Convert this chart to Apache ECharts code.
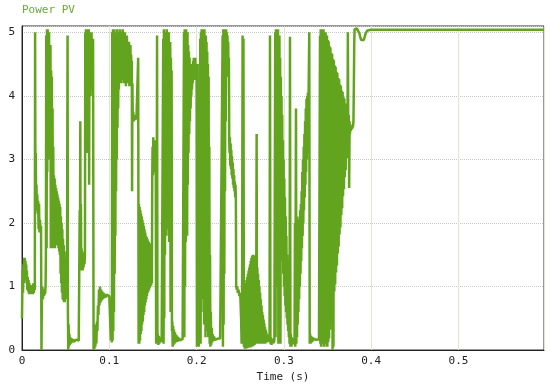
<!DOCTYPE html>
<html>
<head>
<meta charset="utf-8">
<script src="https://cdn.jsdelivr.net/npm/echarts@6/dist/echarts.min.js"></script>
<style>
html,body{margin:0;padding:0;background:#fff;}
#chart{width:550px;height:390px;}
</style>
</head>
<body>
<div id="chart"></div>
<script>
const titleText = 'Power PV';
const xAxisName = 'Time (s)';
const xTicks = [0, 0.1, 0.2, 0.3, 0.4, 0.5];
const yTicks = [0, 1, 2, 3, 4, 5];

// [time (s), power]
const seg1 = [
[0.0000,0.50],[0.0004,0.95],[0.0008,1.25],[0.0012,0.90],[0.0016,1.35],[0.0020,1.05],[0.0024,1.45],[0.0028,1.15],[0.0032,1.45],[0.0036,1.20],[0.0040,1.40],[0.0044,1.10],[0.0048,1.35],[0.0052,1.05],[0.0056,1.25],[0.0060,0.95],[0.0065,1.15],[0.0070,0.92],[0.0075,1.10],[0.0080,0.88],[0.0085,1.05],[0.0090,0.90],[0.0095,1.02],[0.0100,0.88],[0.0106,1.00],[0.0112,0.90],[0.0118,1.02],[0.0124,0.88],[0.0130,1.05],[0.0136,0.90],[0.0142,1.00],[0.0147,0.95],
[0.0150,5.00],[0.0154,2.40],[0.0158,3.10],[0.0162,2.30],[0.0166,2.60],[0.0170,2.20],[0.0175,2.45],[0.0180,2.15],[0.0185,2.35],[0.0190,1.90],[0.0195,2.30],[0.0200,1.85],[0.0206,2.05],[0.0212,1.90],[0.0218,1.95],[0.0223,0.00]
];
const seg2 = [
[0.0228,0.85],[0.0234,1.00],[0.0240,0.80],[0.0246,0.95],[0.0252,0.85],[0.0258,0.95],[0.0264,0.88],[0.0270,1.00],
[0.0274,1.50],[0.0278,4.95],[0.0282,1.60],[0.0286,5.05],[0.0290,2.80],[0.0294,5.05],[0.0298,3.10],[0.0302,4.90],[0.0306,3.20],[0.0310,5.00],[0.0314,3.00],[0.0318,4.70],[0.0322,3.10],[0.0326,4.80],[0.0330,1.60],[0.0334,4.40],[0.0338,1.70],[0.0342,4.30],[0.0346,1.60],[0.0350,3.80],[0.0354,1.65],[0.0358,3.20],
[0.0362,1.60],[0.0366,2.75],[0.0370,1.65],[0.0374,2.70],[0.0378,1.60],[0.0382,2.60],[0.0386,1.70],[0.0390,2.55],[0.0394,1.65],[0.0398,2.50],[0.0402,1.70],[0.0406,2.45],[0.0410,1.65],[0.0414,2.40],[0.0418,1.60],[0.0422,2.35],[0.0426,1.55],[0.0430,2.30],[0.0434,1.50],
[0.0438,2.25],[0.0442,1.20],[0.0446,2.10],[0.0450,1.05],[0.0454,2.00],[0.0458,0.90],[0.0462,1.90],[0.0466,0.80],[0.0470,1.75],[0.0474,0.78],[0.0478,1.65],[0.0482,0.75],[0.0486,1.55],[0.0490,0.75],[0.0494,1.45],[0.0498,0.80],[0.0504,1.40],[0.0510,0.85],[0.0516,1.50],
[0.0522,4.95],[0.0526,0.60],[0.0530,0.00],[0.0534,0.40],[0.0538,0.05],[0.0543,0.25],[0.0548,0.08],[0.0554,0.20],[0.0560,0.10],[0.0568,0.18],[0.0576,0.12],[0.0584,0.17],[0.0592,0.13],[0.0600,0.16],[0.0610,0.14],[0.0620,0.16],[0.0630,0.14],[0.0640,0.15],[0.0650,0.15],[0.0658,0.14]
];
const seg3 = [
[0.0661,2.20],[0.0664,1.40],[0.0668,3.60],[0.0671,1.30],[0.0675,2.30],[0.0679,1.25],[0.0683,1.60],[0.0687,1.30],[0.0691,1.55],[0.0695,1.25],[0.0700,1.50],[0.0705,1.30],[0.0710,1.45],[0.0716,1.35],[0.0721,1.50],
[0.0725,5.00],[0.0729,4.10],[0.0733,5.05],[0.0737,4.00],[0.0741,5.05],[0.0745,3.10],[0.0749,5.05],[0.0753,4.05],[0.0757,5.00],[0.0761,4.20],[0.0765,5.05],[0.0769,2.60],[0.0773,4.95],[0.0777,4.10],[0.0781,5.00],[0.0785,4.00],[0.0789,4.95],[0.0793,4.20],[0.0797,5.00],[0.0801,4.10],[0.0805,4.80],[0.0809,4.30],[0.0814,4.90],
[0.0820,0.00],[0.0825,0.30],[0.0830,0.02],[0.0835,0.35],[0.0840,0.05],[0.0846,0.40],[0.0852,0.10],[0.0858,0.45],[0.0864,0.30],[0.0870,0.70],[0.0876,0.55],[0.0882,0.95],[0.0888,0.70],[0.0894,1.00],[0.0900,0.75],[0.0907,0.95],[0.0914,0.78],[0.0921,0.92],[0.0928,0.80],[0.0935,0.90],[0.0943,0.82],[0.0951,0.88],[0.0960,0.83],[0.0970,0.87],[0.0980,0.84],[0.0990,0.86],[0.1000,0.85],[0.1010,0.84]
];
const seg4 = [
[0.1018,0.15],[0.1024,0.20],[0.1030,0.12],[0.1034,5.00],[0.1038,0.15],[0.1042,5.05],[0.1046,0.30],[0.1050,4.95],[0.1054,0.60],[0.1058,5.05],[0.1062,1.20],[0.1066,4.90],[0.1070,1.80],[0.1074,5.00],[0.1078,2.50],[0.1082,4.95],[0.1086,3.00],[0.1090,5.05],[0.1094,3.50],[0.1098,4.90],[0.1102,3.80],[0.1106,5.00],[0.1110,4.10],[0.1114,4.95],[0.1118,4.20],
[0.1122,5.05],[0.1126,4.30],[0.1130,4.90],[0.1134,4.20],[0.1138,5.00],[0.1142,4.40],[0.1146,4.80],[0.1150,4.25],[0.1154,5.05],[0.1158,4.35],[0.1162,4.95],[0.1166,4.20],[0.1170,4.85],[0.1174,4.30],[0.1178,5.00],[0.1182,4.40],[0.1186,4.90],[0.1190,4.15],[0.1194,4.80],[0.1198,4.25],[0.1202,4.95],[0.1206,4.30],[0.1210,4.85],[0.1214,4.20],[0.1218,4.75],[0.1222,4.30],[0.1226,4.85],[0.1230,4.15],[0.1234,4.70],[0.1238,4.25],[0.1242,4.80],[0.1246,4.30],[0.1250,4.65],[0.1254,4.40],[0.1258,4.55],
[0.1261,2.50],[0.1265,4.20],[0.1269,3.60],[0.1274,3.75],[0.1280,3.60],[0.1286,3.70],[0.1292,3.62],[0.1298,3.68],[0.1305,3.63],[0.1312,3.67],[0.1320,3.64],[0.1327,3.66]
];
const seg5 = [
[0.1331,4.60],[0.1336,0.10],[0.1340,2.30],[0.1344,0.10],[0.1348,2.25],[0.1352,0.15],[0.1356,2.20],[0.1360,0.25],[0.1364,2.15],[0.1368,0.30],[0.1372,2.10],[0.1376,0.40],[0.1380,2.05],[0.1384,0.45],[0.1388,2.00],[0.1392,0.55],[0.1396,1.95],[0.1400,0.60],[0.1404,1.90],[0.1408,0.70],[0.1412,1.85],[0.1416,0.75],[0.1420,1.80],[0.1424,0.80],[0.1428,1.78],[0.1432,0.85],[0.1436,1.75],[0.1440,0.90],[0.1444,1.72],[0.1448,0.92],[0.1452,1.70],[0.1456,0.95],[0.1460,1.68],[0.1464,0.98],[0.1468,1.66],[0.1472,1.00],[0.1476,1.65],[0.1480,1.02],[0.1484,1.62],[0.1488,1.05],
[0.1492,2.70],[0.1496,3.20],[0.1500,2.75],[0.1504,3.35],[0.1508,2.80],[0.1512,3.30],[0.1516,2.85],[0.1520,3.25],[0.1524,2.90],[0.1528,3.30],[0.1532,3.00],[0.1537,0.10],[0.1542,0.30],[0.1547,4.95],[0.1552,0.10],[0.1557,0.25],[0.1562,0.08],[0.1567,0.22],[0.1573,0.10],[0.1579,0.20],[0.1585,0.12],[0.1592,0.18],[0.1600,0.13],[0.1608,0.16],[0.1614,0.14],
[0.1618,4.90],[0.1622,0.10],[0.1626,5.05],[0.1630,0.50],[0.1634,4.95],[0.1638,1.50],[0.1642,5.00],[0.1646,2.00],[0.1650,4.85],[0.1654,1.80],[0.1658,5.05],[0.1662,2.30],[0.1666,4.90],[0.1670,1.90],[0.1674,4.80],[0.1678,2.20],[0.1682,5.00],[0.1686,1.70],[0.1690,4.70],[0.1694,2.00],[0.1698,4.85],[0.1702,0.60],[0.1706,4.60],[0.1710,1.00],[0.1714,4.40],[0.1718,0.30],
[0.1722,0.45],[0.1726,0.05],[0.1731,0.38],[0.1736,0.08],[0.1741,0.32],[0.1747,0.10],[0.1753,0.28],[0.1760,0.12],[0.1767,0.24],[0.1775,0.13],[0.1783,0.21],[0.1791,0.14],[0.1800,0.19],[0.1810,0.15],[0.1820,0.18],[0.1830,0.15],[0.1840,0.17],[0.1850,0.16]
];
const seg6 = [
[0.1856,5.00],[0.1860,0.20],[0.1864,5.05],[0.1868,1.00],[0.1872,4.95],[0.1876,1.70],[0.1880,5.05],[0.1884,2.20],[0.1888,4.90],[0.1892,1.80],[0.1896,5.00],[0.1900,2.60],[0.1904,4.80],[0.1908,3.10],[0.1912,4.70],[0.1916,3.40],[0.1920,4.60],[0.1924,3.60],[0.1928,4.50],[0.1932,3.80],[0.1936,4.50],[0.1940,4.00],[0.1944,4.45],[0.1948,4.10],[0.1952,4.50],[0.1956,4.20],[0.1960,4.55],[0.1964,4.30],[0.1968,4.60],[0.1972,4.25],[0.1976,4.55],[0.1980,4.40],[0.1985,4.60],[0.1990,4.30],[0.1995,4.50],[0.2000,4.40],
[0.2004,0.05],[0.2008,0.20],[0.2012,4.50],[0.2016,0.10],[0.2020,0.30],[0.2024,0.05],[0.2028,0.25],[0.2033,0.10],[0.2038,0.20],
[0.2042,4.90],[0.2046,0.10],[0.2050,5.00],[0.2054,0.60],[0.2058,5.05],[0.2062,1.20],[0.2066,4.95],[0.2070,0.80],[0.2074,5.05],[0.2078,1.60],[0.2082,5.00],[0.2086,0.40],[0.2090,5.05],[0.2094,1.40],[0.2098,4.90],[0.2102,0.20],[0.2106,4.95],[0.2110,1.10],[0.2114,4.85],[0.2118,0.30],[0.2122,4.70],[0.2126,0.80],[0.2130,4.50],[0.2134,0.20],[0.2138,4.30],[0.2142,0.50],[0.2146,3.20],[0.2150,0.10],[0.2154,1.50],[0.2158,0.05],[0.2163,0.60],[0.2168,0.08],[0.2173,0.35],[0.2179,0.12],[0.2185,0.25],[0.2192,0.14],[0.2200,0.21],[0.2210,0.16],[0.2220,0.19],[0.2232,0.17],[0.2245,0.18],[0.2258,0.17],[0.2270,0.18],[0.2282,0.17],[0.2292,0.17]
];
const seg7 = [
[0.2298,4.95],[0.2302,0.05],[0.2306,5.05],[0.2310,0.40],[0.2314,5.00],[0.2318,1.20],[0.2322,5.05],[0.2326,2.50],[0.2330,4.95],[0.2334,3.60],[0.2338,5.05],[0.2342,4.30],[0.2346,5.00],[0.2350,4.30],[0.2354,4.95],[0.2358,4.40],[0.2362,4.85],[0.2366,4.30],[0.2370,4.60],[0.2374,3.30],[0.2378,3.10],[0.2382,3.35],[0.2386,2.90],[0.2390,3.25],[0.2394,2.85],[0.2398,3.15],[0.2402,2.75],[0.2406,3.05],[0.2410,2.70],[0.2414,2.95],[0.2418,2.60],[0.2422,2.85],[0.2426,2.55],[0.2430,2.75],[0.2434,2.50],[0.2438,2.65],[0.2442,2.40],[0.2446,2.60],[0.2450,2.40],
[0.2454,1.00],[0.2460,0.95],[0.2466,1.00],[0.2472,0.90],[0.2480,0.95],[0.2490,0.85],[0.2500,0.90],[0.2510,0.50],[0.2516,0.10],[0.2521,0.20],[0.2527,4.95],[0.2532,0.10],[0.2537,4.90],[0.2542,0.05],
[0.2548,0.95],[0.2552,0.02],[0.2556,1.00],[0.2560,0.05],[0.2564,1.05],[0.2568,0.02],[0.2572,1.10],[0.2576,0.05],[0.2580,1.15],[0.2584,0.03],[0.2588,1.20],[0.2592,0.05],[0.2596,1.25],[0.2600,0.04],[0.2604,1.30],[0.2608,0.06],[0.2612,1.35],[0.2616,0.04],[0.2620,1.40],[0.2624,0.06],[0.2628,1.45],[0.2632,0.05],[0.2636,1.48],[0.2640,0.08],[0.2644,1.50],[0.2648,0.06],[0.2652,1.50],[0.2656,0.10],[0.2660,1.48],[0.2664,0.08],[0.2668,1.45],[0.2672,0.12],[0.2676,1.40],[0.2680,0.10],[0.2684,1.35],[0.2688,3.40],[0.2692,0.10],[0.2696,1.30],[0.2700,0.12],[0.2704,1.20],[0.2708,0.10],[0.2712,1.10],[0.2716,0.12],[0.2720,1.00],[0.2724,0.10],[0.2728,0.90],[0.2732,0.12],[0.2736,0.80],[0.2740,0.10],[0.2744,0.70],[0.2748,0.12],[0.2752,0.60],[0.2756,0.10],[0.2760,0.55],[0.2764,0.12],[0.2768,0.48],[0.2772,0.10],[0.2776,0.42],[0.2780,0.12],[0.2784,0.36],[0.2788,0.10],[0.2792,0.32],[0.2796,0.12],[0.2800,0.28],[0.2806,0.12],[0.2812,0.24],[0.2818,0.13],[0.2824,0.20],[0.2830,0.14],[0.2836,0.18]
];
const seg8 = [
[0.2841,4.95],[0.2846,0.10],[0.2852,0.20],[0.2858,0.08],[0.2864,0.18],[0.2870,0.10],[0.2877,0.16],[0.2884,0.11],[0.2891,0.15],[0.2897,0.12],
[0.2901,5.00],[0.2905,0.20],[0.2909,5.05],[0.2913,1.00],[0.2917,5.05],[0.2921,2.50],[0.2925,5.00],[0.2929,3.20],[0.2933,5.05],[0.2937,0.10],[0.2941,4.90],[0.2945,3.00],[0.2949,4.95],[0.2953,2.60],[0.2957,4.60],[0.2961,0.10],[0.2965,4.30],[0.2969,2.00],[0.2973,4.00],[0.2977,1.70],[0.2981,3.70],[0.2985,1.40],[0.2989,3.30],[0.2993,1.20],[0.2997,3.00],[0.3001,1.00],[0.3005,2.70],[0.3009,0.85],[0.3013,2.40],[0.3017,0.70],[0.3021,2.10],[0.3025,0.60],[0.3029,1.80],[0.3033,0.50],[0.3037,1.50],[0.3041,0.40],[0.3045,1.20],[0.3049,0.30],[0.3053,0.90],[0.3057,0.20],[0.3061,0.60],[0.3065,0.10],
[0.3070,4.93],[0.3075,0.05],[0.3080,0.25],[0.3085,0.05],[0.3090,0.20],[0.3096,0.08],[0.3102,0.18],[0.3108,0.10],[0.3115,0.15],[0.3122,0.10],
[0.3127,2.00],[0.3131,0.05],[0.3135,2.10],[0.3139,3.80],[0.3143,0.10],[0.3147,2.10],[0.3151,0.20],[0.3155,2.00],[0.3159,0.40],[0.3163,2.05],[0.3167,0.60],[0.3171,2.00],[0.3175,0.80],[0.3179,2.10],[0.3183,1.00],[0.3187,2.20],[0.3191,1.20],[0.3195,2.30],[0.3199,1.40],[0.3203,2.50],[0.3207,1.60],
[0.3211,2.80],[0.3215,1.80],[0.3219,3.00],[0.3223,2.00],[0.3227,3.20],[0.3231,2.20],[0.3235,3.40],[0.3239,2.40],[0.3243,3.60],[0.3247,2.60],[0.3251,3.80],[0.3255,2.80],[0.3259,3.95],[0.3263,3.00],[0.3267,4.00],[0.3271,3.10],[0.3275,4.05],[0.3279,3.20],[0.3283,4.00],
[0.3291,5.00],[0.3296,0.10],[0.3301,0.25],[0.3306,0.10],[0.3312,0.22],[0.3318,0.12],[0.3325,0.20],[0.3333,0.14],[0.3342,0.18],[0.3352,0.15],[0.3362,0.17],[0.3372,0.16],[0.3382,0.17],[0.3392,0.16],[0.3402,0.17],[0.3410,0.16]
];
const seg9 = [
[0.3414,4.95],[0.3418,0.10],[0.3422,5.05],[0.3426,0.05],[0.3430,5.00],[0.3434,0.20],[0.3438,5.05],[0.3442,0.10],[0.3446,4.95],[0.3450,0.30],[0.3454,5.05],[0.3458,0.05],[0.3462,5.00],[0.3466,0.20],[0.3470,4.95],[0.3474,0.10],[0.3478,5.00],[0.3482,0.15],[0.3486,4.90],[0.3490,0.05],[0.3494,4.95],
[0.3498,0.05],[0.3503,4.88],[0.3508,0.12],[0.3513,4.86],[0.3518,0.18],[0.3523,4.78],[0.3528,0.32],[0.3533,4.76],[0.3538,0.40],[0.3543,4.68],[0.3548,0.57],[0.3553,4.66],[0.3558,0.00],[0.3563,4.58],[0.3568,0.05],[0.3573,4.56],[0.3578,0.92],[0.3583,4.48],[0.3588,1.03],[0.3593,4.46],[0.3598,1.22],[0.3603,4.38],[0.3608,1.33],[0.3613,4.36],[0.3618,1.52],[0.3623,4.28],[0.3628,1.63],[0.3633,4.26],[0.3638,1.82],[0.3643,4.18],[0.3648,1.93],[0.3653,4.16],[0.3658,2.12],[0.3663,4.08],[0.3668,2.23],[0.3673,4.06],[0.3678,2.42],[0.3683,3.98],[0.3688,2.53],[0.3693,3.96],[0.3698,2.72],[0.3703,3.88],[0.3708,2.83],[0.3713,3.86],[0.3718,3.02],[0.3723,3.78],[0.3728,3.08],[0.3733,5.00],[0.3738,3.22],[0.3743,3.70],[0.3748,2.55],[0.3753,3.60],[0.3757,3.40],
[0.3762,3.55],[0.3767,3.45],[0.3772,3.52],[0.3777,3.48],[0.3782,3.50],[0.3787,3.47],[0.3792,3.52],[0.3797,3.60],[0.3802,4.20],[0.3806,4.80],[0.3810,5.05],[0.3816,5.08],[0.3822,5.07],[0.3830,5.08],[0.3838,5.06],[0.3846,5.05],[0.3856,5.03],[0.3866,4.98],[0.3876,4.92],[0.3886,4.88],[0.3896,4.86],[0.3906,4.85],[0.3916,4.88],[0.3926,4.93],[0.3936,4.98],[0.3946,5.01],[0.3956,5.03],[0.3970,5.04],[0.4000,5.04],[0.5980,5.04]
];

const trace = [].concat(seg1, seg2, seg3, seg4, seg5, seg6, seg7, seg8, seg9);

const FONT = '"DejaVu Sans Mono", monospace';
const chart = echarts.init(document.getElementById('chart'), null, {renderer: 'canvas'});
chart.setOption({
  animation: false,
  backgroundColor: '#ffffff',
  title: {
    text: titleText, left: 22, top: 5, padding: 0,
    textStyle: {fontFamily: FONT, fontSize: 11, fontWeight: 'normal', color: '#6aa832'}
  },
  grid: {left: 22, right: 6, top: 26, bottom: 40, show: true, borderColor: '#333', borderWidth: 1},
  xAxis: {
    type: 'value', min: xTicks[0], max: 0.598, interval: 0.1,
    name: xAxisName, nameLocation: 'middle', nameGap: 22,
    nameTextStyle: {fontFamily: FONT, fontSize: 11, color: '#222'},
    axisLine: {lineStyle: {color: '#222', width: 1}},
    axisTick: {show: false},
    axisLabel: {fontFamily: FONT, fontSize: 11, color: '#222', margin: 6, showMaxLabel: false,
      formatter: v => (xTicks.some(t => Math.abs(t - v) < 1e-9) ? String(+v.toFixed(1)) : '')},
    splitLine: {show: true, lineStyle: {color: '#dde8d2', width: 1}}
  },
  yAxis: {
    type: 'value', min: yTicks[0], max: 5.1, interval: 1,
    axisLine: {show: true, lineStyle: {color: '#222', width: 1}},
    axisTick: {show: false},
    axisLabel: {fontFamily: FONT, fontSize: 11, color: '#222', margin: 7, showMaxLabel: false,
      formatter: v => (yTicks.indexOf(v) >= 0 ? String(v) : '')},
    splitLine: {show: true, lineStyle: {color: '#c8c8c8', width: 1, type: 'dotted'}}
  },
  series: [{
    type: 'line', data: trace, showSymbol: false, symbol: 'none',
    clip: true,
    lineStyle: {color: '#62a41e', width: 2.5}
  }]
});
</script>
</body>
</html>
